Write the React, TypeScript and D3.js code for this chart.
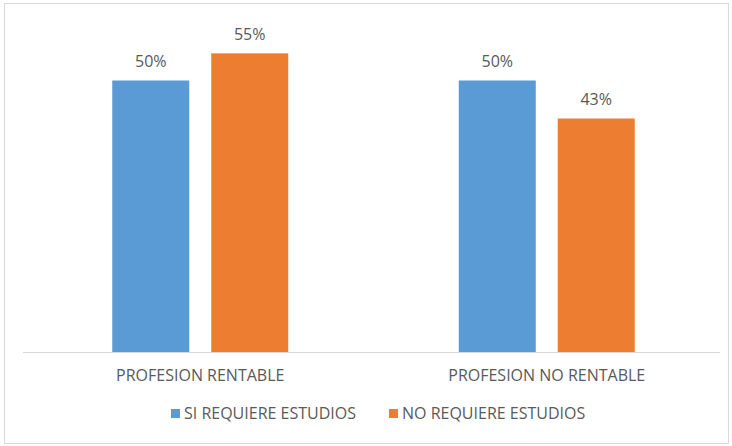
import React, { useEffect, useRef } from 'react';
import * as d3 from 'd3';

const categories = ['PROFESION RENTABLE', 'PROFESION NO RENTABLE'];
const seriesNames = ['SI REQUIERE ESTUDIOS', 'NO REQUIERE ESTUDIOS'];
const siRequiere = [50, 50];
const noRequiere = [55, 43];
const colors = ['#5B9BD5', '#ED7D31'];

const App: React.FC = () => {
  const ref = useRef<SVGSVGElement | null>(null);

  useEffect(() => {
    if (!ref.current) return;
    const W = 732;
    const H = 446;
    const baseY = 352;
    const groupW = 176;

    const svg = d3.select(ref.current).attr('width', W).attr('height', H);
    svg.selectAll('*').remove();

    // outer frame
    svg.append('rect')
      .attr('x', 4.5).attr('y', 3.5)
      .attr('width', W - 8).attr('height', H - 6)
      .attr('fill', '#fff')
      .attr('stroke', '#d9d9d9');

    const x0 = d3.scaleBand<string>()
      .domain(categories)
      .range([27, 720]);

    const x1 = d3.scaleBand<string>()
      .domain(seriesNames)
      .range([0, groupW])
      .paddingInner(0.222);

    const y = d3.scaleLinear().domain([0, 50]).range([baseY, 80.5]);

    const font = "'Open Sans', sans-serif";

    const rows = categories.map((c, i) => ({
      cat: c,
      vals: [siRequiere[i], noRequiere[i]],
    }));

    const groups = svg.append('g').selectAll('g.grp')
      .data(rows)
      .enter()
      .append('g')
      .attr('class', 'grp')
      .attr('transform', d => `translate(${(x0(d.cat) as number) + x0.bandwidth() / 2 - groupW / 2},0)`);

    groups.selectAll('rect')
      .data(d => d.vals.map((v, j) => ({ v, s: seriesNames[j], j })))
      .enter()
      .append('rect')
      .attr('x', d => x1(d.s) as number)
      .attr('y', d => y(d.v))
      .attr('width', x1.bandwidth())
      .attr('height', d => baseY - y(d.v))
      .attr('fill', d => colors[d.j]);

    groups.selectAll('text')
      .data(d => d.vals.map((v, j) => ({ v, s: seriesNames[j] })))
      .enter()
      .append('text')
      .attr('x', d => (x1(d.s) as number) + x1.bandwidth() / 2)
      .attr('y', d => y(d.v) - 13.5)
      .attr('text-anchor', 'middle')
      .attr('font-family', font)
      .attr('font-size', 16)
      .attr('fill', '#595959')
      .text(d => `${d.v}%`);

    // baseline
    svg.append('line')
      .attr('x1', 23).attr('x2', 720)
      .attr('y1', baseY + 0.5).attr('y2', baseY + 0.5)
      .attr('stroke', '#d9d9d9');

    // category labels
    svg.selectAll('text.cat')
      .data(categories)
      .enter()
      .append('text')
      .attr('class', 'cat')
      .attr('x', d => (x0(d) as number) + x0.bandwidth() / 2)
      .attr('y', 381)
      .attr('text-anchor', 'middle')
      .attr('font-family', font)
      .attr('font-size', 16)
      .attr('fill', '#595959')
      .text(d => d);

    // legend
    const legendX = [171, 389];
    const leg = svg.selectAll('g.leg')
      .data(seriesNames)
      .enter()
      .append('g')
      .attr('class', 'leg')
      .attr('transform', (d, i) => `translate(${legendX[i]},409)`);
    leg.append('rect')
      .attr('width', 9).attr('height', 9)
      .attr('fill', (d, i) => colors[i]);
    leg.append('text')
      .attr('x', 13)
      .attr('y', 10)
      .attr('font-family', font)
      .attr('font-size', 16)
      .attr('fill', '#595959')
      .text(d => d);
  }, []);

  return (
    <svg ref={ref} style={{ position: 'absolute', left: 0, top: 0 }} />
  );
};

export default App;
